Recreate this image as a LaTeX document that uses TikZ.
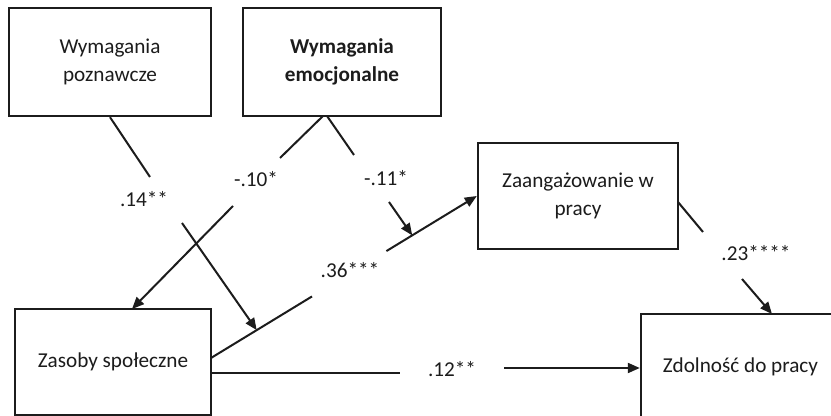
\documentclass[tikz,border=0pt]{standalone}
\usepackage{fontspec}
\setmainfont{Carlito}
\usetikzlibrary{arrows.meta,calc}
\definecolor{InkBlack}{HTML}{1C1C1C}
\tikzset{
  box/.style={draw=InkBlack, line width=1.2pt, fill=white, align=center, inner sep=0pt, text=InkBlack, font=\fontsize{10.6}{14}\selectfont},
  line/.style={line width=1pt, draw=InkBlack},
  arrow/.style={-{Triangle[length=6pt, width=5pt]}, line width=1pt, draw=InkBlack},
  coef/.style={font=\fontsize{10.6}{13}\selectfont, text=InkBlack, inner sep=1pt}
}

\begin{document}
\begin{tikzpicture}[x=0.5pt, y=-0.5pt]
\useasboundingbox (0,0) rectangle (831,416);
\fill[white] (0,0) rectangle (831,416);
\begin{scope}
\clip (0,0) rectangle (831,416);

\node[box, minimum width=101pt, minimum height=54pt] (cogn) at (110,62) {Wymagania\\poznawcze};
\node[box, minimum width=99pt, minimum height=54pt, font=\fontsize{10.6}{14}\selectfont\bfseries] (emot) at (342,62) {Wymagania\\emocjonalne};
\node[box, minimum width=100pt, minimum height=53pt] (engage) at (578,196) {Zaangażowanie w\\pracy};
\node[box, minimum width=98pt, minimum height=53pt] (social) at (113,362) {Zasoby społeczne};
\node[box, minimum width=99.5pt, minimum height=53pt] (workab) at (740.5,367) {Zdolność do pracy};

\node[coef] (b14) at (144,199) {.14**};
\node[coef] (b10) at (256,179) {-.10*};
\node[coef] (b11) at (386,178) {-.11*};
\node[coef] (b36) at (350,270) {.36***};
\node[coef] (b23) at (756,253) {.23****};
\node[coef] (b12) at (452,369) {.12**};

\coordinate (soc1) at (211,358);
\coordinate (soc2) at (211,373);
\coordinate (emo0) at (323,116);
\coordinate (emo1) at (327,116);
\coordinate (socTop) at (132,309);
\coordinate (engR) at (678,202);
\coordinate (wabTop) at (772,314);
\coordinate (mod1) at ($(soc1)!0.172!(engage.west)$);
\coordinate (mod2) at ($(soc1)!0.757!(engage.west)$);

\draw[line] (cogn.south) -- (150,177);
\draw[arrow] (182,223) -- (mod1);
\draw[line] (emo0) -- (280,158);
\draw[arrow] (233,206) -- (socTop);
\draw[line] (emo1) -- (354,155);
\draw[arrow] (389,202) -- (mod2);
\draw[line] (soc1) -- ($(soc1)!0.38!(engage.west)$);
\draw[arrow] ($(soc1)!0.66!(engage.west)$) -- (engage.west);
\draw[line] (engR) -- (703,232);
\draw[arrow] (742,279) -- (wabTop);
\draw[line] (soc2) -- (400,373);
\draw[arrow] (504,368) -- (workab.west |- 0,368);
\end{scope}
\end{tikzpicture}
\end{document}
